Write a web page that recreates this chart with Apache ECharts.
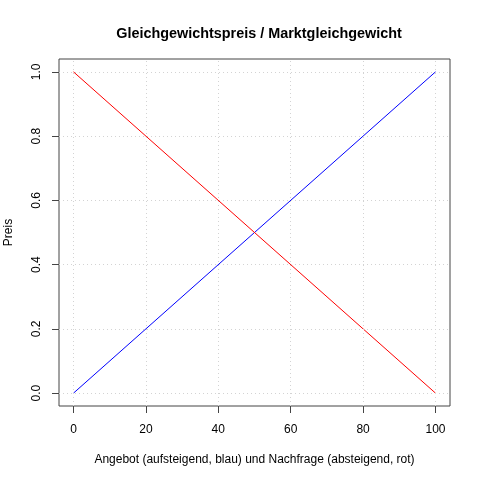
<!DOCTYPE html>
<html><head><meta charset="utf-8">
<script src="https://cdn.jsdelivr.net/npm/echarts@6/dist/echarts.min.js"></script>
<style>html,body{margin:0;padding:0;background:#fff}#c{width:480px;height:480px}</style>
</head><body><div id="c"></div>
<script>
var quantity = [0, 100];
var supply = [0, 1];
var demand = [1, 0];
var xTicks = [0, 20, 40, 60, 80, 100];
var yTicks = [0, 0.2, 0.4, 0.6, 0.8, 1.0];
var titleText = 'Gleichgewichtspreis / Marktgleichgewicht';
var xName = 'Angebot (aufsteigend, blau) und Nachfrage (absteigend, rot)';
var yName = 'Preis';

var font = 'Liberation Sans, Arial, Helvetica, sans-serif';
var gridStyle = {color: '#d3d3d3', type: [1, 3], width: 1};
var chart = echarts.init(document.getElementById('c'), null, {renderer: 'canvas'});
chart.setOption({
  animation: false,
  backgroundColor: '#fff',
  title: {text: titleText, left: 254, textAlign: 'center', top: 22,
    textStyle: {fontFamily: font, fontSize: 14.4, fontWeight: 'bold', color: '#000'}},
  grid: {left: 59, right: 30, top: 59, bottom: 74, show: true, borderColor: '#444', borderWidth: 1,
    containLabel: false, outerBoundsMode: 'none'},
  xAxis: {type: 'value', min: -4, max: 104,
    name: xName, nameLocation: 'middle', nameGap: 48,
    nameTextStyle: {fontFamily: font, fontSize: 12, color: '#000'},
    axisLine: {show: false, onZero: false},
    axisTick: {show: true, length: 7, customValues: xTicks, lineStyle: {color: '#444'}},
    axisLabel: {customValues: xTicks, margin: 18, fontFamily: font, fontSize: 12, color: '#000'},
    splitLine: {show: false}},
  yAxis: {type: 'value', min: -0.04, max: 1.04,
    name: yName, nameLocation: 'middle', nameGap: 44, nameRotate: 90,
    nameTextStyle: {fontFamily: font, fontSize: 12, color: '#000'},
    axisLine: {show: false, onZero: false},
    axisTick: {show: true, length: 7, customValues: yTicks, lineStyle: {color: '#444'}},
    axisLabel: {customValues: yTicks, rotate: 90, margin: 16, fontFamily: font, fontSize: 12, color: '#000',
      formatter: function(v){ return v.toFixed(1); }},
    splitLine: {show: false}},
  series: [
    {type: 'line', data: quantity.map(function(q,i){return [q, supply[i]];}),
     showSymbol: false, lineStyle: {color: '#0000FF', width: 1}, z: 3,
     markLine: {silent: true, symbol: 'none', label: {show: false}, lineStyle: gridStyle, animation: false,
       data: xTicks.map(function(t){return {xAxis: t};}).concat(yTicks.map(function(t){return {yAxis: t};}))}},
    {type: 'line', data: quantity.map(function(q,i){return [q, demand[i]];}),
     showSymbol: false, lineStyle: {color: '#FF0000', width: 1}, z: 3}
  ]
});
</script></body></html>
